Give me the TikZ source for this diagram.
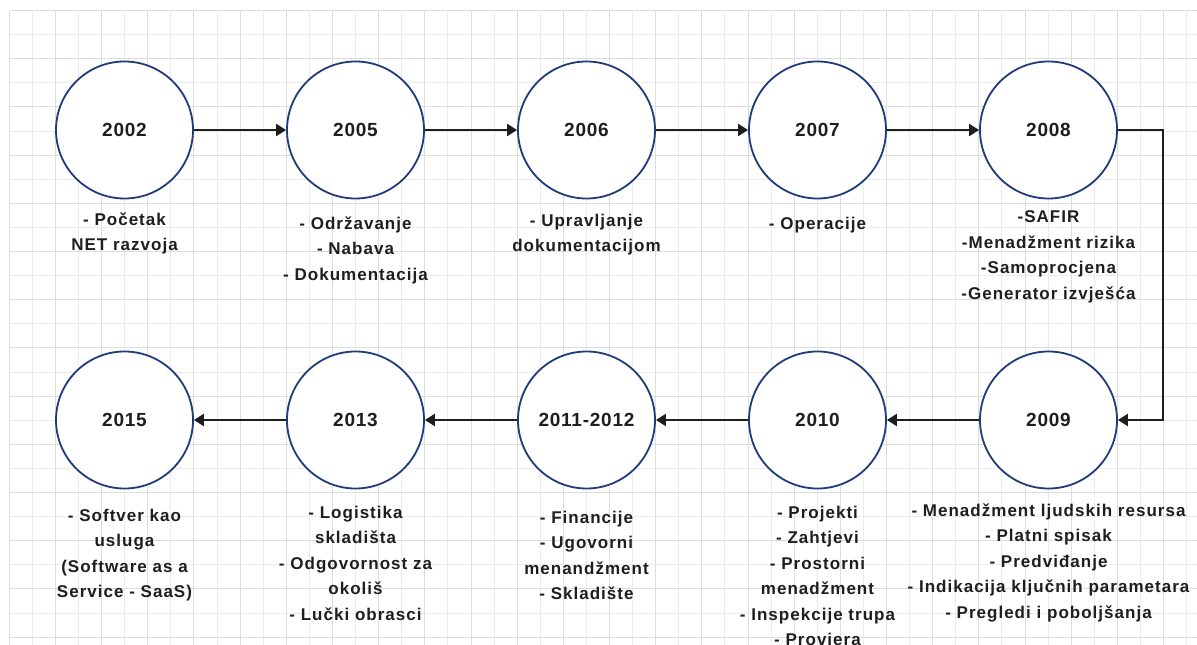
\documentclass[tikz,border=0pt]{standalone}
\usepackage{fontspec}
\setmainfont{Liberation Sans}
\newfontfamily\labfont[LetterSpace=6]{Liberation Sans}
\newfontfamily\yrfont[LetterSpace=4]{Liberation Sans}
\usetikzlibrary{arrows.meta}
\definecolor{navy}{HTML}{1F3B7A}
\definecolor{ink}{HTML}{1E1E1E}
\definecolor{gridminor}{HTML}{EBEBEB}
\definecolor{gridmajor}{HTML}{DDDDDD}
\begin{document}
\begin{tikzpicture}[x=1pt,y=-1pt,
  yearnode/.style={circle,draw=navy,line width=1.8pt,fill=white,minimum size=137pt,inner sep=0pt,
    font=\yrfont\fontsize{19}{22}\selectfont\bfseries,text=ink},
  labnode/.style={anchor=north,align=center,inner sep=0pt,
    font=\labfont\fontsize{17}{25.5}\selectfont\bfseries,text=ink},
  conn/.style={draw=ink,line width=2.2pt,-{Triangle[length=10pt,width=12pt]}}]
\fill[white] (0,0) rectangle (1197,645);
\useasboundingbox (0,0) rectangle (1197,645);
% grid
\foreach \i in {0,...,51} {
  \ifodd\i
    \draw[gridminor,line width=1pt] ({round(8.8+23.085*\i)+0.5},10.5) -- ({round(8.8+23.085*\i)+0.5},650);
  \fi
}
\foreach \j in {0,...,27} {
  \ifodd\j
    \draw[gridminor,line width=1pt] (9.5,{round(10+24.1*\j)+0.5}) -- (1200,{round(10+24.1*\j)+0.5});
  \fi
}
\foreach \i in {0,...,51} {
  \ifodd\i\else
    \draw[gridmajor,line width=1pt] ({round(8.8+23.085*\i)+0.5},10.5) -- ({round(8.8+23.085*\i)+0.5},650);
  \fi
}
\foreach \j in {0,...,27} {
  \ifodd\j\else
    \draw[gridmajor,line width=1pt] (9.5,{round(10+24.1*\j)+0.5}) -- (1200,{round(10+24.1*\j)+0.5});
  \fi
}
% circles
\node[yearnode] (y2002) at (124.5,130) {2002};
\node[yearnode] (y2005) at (355.5,130) {2005};
\node[yearnode] (y2006) at (586.5,130) {2006};
\node[yearnode] (y2007) at (817.5,130) {2007};
\node[yearnode] (y2008) at (1048.5,130) {2008};
\node[yearnode] (y2009) at (1048.5,420) {2009};
\node[yearnode] (y2010) at (817.5,420) {2010};
\node[yearnode] (y2011) at (586.5,420) {2011-2012};
\node[yearnode] (y2013) at (355.5,420) {2013};
\node[yearnode] (y2015) at (124.5,420) {2015};
% connectors
\draw[conn] (y2002) -- (y2005);
\draw[conn] (y2005) -- (y2006);
\draw[conn] (y2006) -- (y2007);
\draw[conn] (y2007) -- (y2008);
\draw[conn] (y2008.east) -- ++(45,0) |- (y2009.east);
\draw[conn] (y2009) -- (y2010);
\draw[conn] (y2010) -- (y2011);
\draw[conn] (y2011) -- (y2013);
\draw[conn] (y2013) -- (y2015);
% labels
\node[labnode] (l2002) at (124.5,212.5) {- Početak\\NET razvoja};
\node[labnode] (l2005) at (355.5,216.5) {- Održavanje\\- Nabava\\- Dokumentacija};
\node[labnode] (l2006) at (586.5,213.5) {- Upravljanje\\dokumentacijom};
\node[labnode] (l2007) at (817.5,216.5) {- Operacije};
\node[labnode] (l2008) at (1048.5,210.5) {-SAFIR\\-Menadžment rizika\\-Samoprocjena\\-Generator izvješća};
\node[labnode] (l2015) at (124.5,508.5) {- Softver kao\\usluga\\(Software as a\\Service - SaaS)};
\node[labnode] (l2013) at (355.5,505.5) {- Logistika\\skladišta\\- Odgovornost za\\okoliš\\- Lučki obrasci};
\node[labnode] (l2011) at (586.5,510.5) {- Financije\\- Ugovorni\\menandžment\\- Skladište};
\node[labnode] (l2010) at (817.5,505.5) {- Projekti\\- Zahtjevi\\- Prostorni\\menadžment\\- Inspekcije trupa\\- Provjera};
\node[labnode] (l2009) at (1048.5,503.5) {- Menadžment ljudskih resursa\\- Platni spisak\\- Predviđanje\\- Indikacija ključnih parametara\\- Pregledi i poboljšanja};
\end{tikzpicture}
\end{document}
